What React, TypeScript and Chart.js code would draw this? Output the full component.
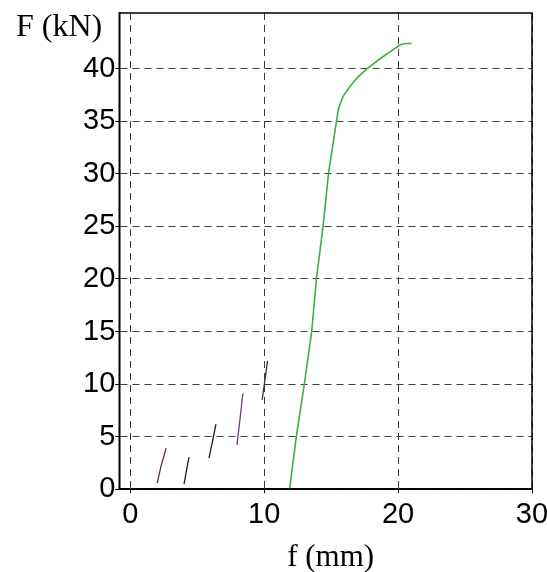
import React, { useEffect, useRef } from "react";
import { Chart, registerables } from "chart.js";

Chart.register(...registerables);

// ---- data ----
const xTicks = [0, 10, 20, 30];
const yTicks = [0, 5, 10, 15, 20, 25, 30, 35, 40];

const mainX = [11.9, 12.4, 13.0, 13.55, 13.9, 14.4, 14.8, 15.4, 15.55, 15.9, 16.4, 17.0, 17.7, 18.6, 19.5, 20.2, 20.6, 21.0];
const mainY = [0, 5, 10, 15, 20, 25, 30, 35, 36.2, 37.4, 38.3, 39.2, 40.0, 40.9, 41.7, 42.3, 42.4, 42.4];

const cycle1X = [2.01, 2.3, 2.68];
const cycle1Y = [0.57, 2.2, 3.9];
const cycle2X = [4.02, 4.2, 4.39];
const cycle2Y = [0.48, 1.8, 3.05];
const cycle3X = [5.88, 6.15, 6.4];
const cycle3Y = [2.95, 4.6, 6.2];
const cycle4X = [7.97, 8.2, 8.41];
const cycle4Y = [4.2, 6.7, 9.1];
const cycle5X = [9.85, 10.05, 10.25];
const cycle5Y = [8.5, 10.3, 12.2];

const yTitle = "F (kN)";
const xTitle = "f (mm)";

const toPts = (xs: number[], ys: number[]) => xs.map((x, i) => ({ x, y: ys[i] }));

const framePlugin = {
  id: "frameAndTitles",
  afterDraw(chart: any) {
    const { ctx, chartArea } = chart;
    const { left, right, top, bottom } = chartArea;
    ctx.save();
    ctx.strokeStyle = "#000";
    ctx.lineWidth = 1.5;
    ctx.setLineDash([]);
    ctx.strokeRect(left, top, right - left, bottom - top);
    ctx.fillStyle = "#000";
    ctx.font = "32px 'Liberation Serif'";
    ctx.textAlign = "right";
    ctx.textBaseline = "alphabetic";
    ctx.fillText(yTitle, left - 17, 36);
    ctx.font = "31px 'Liberation Serif'";
    ctx.textAlign = "center";
    ctx.fillText(xTitle, (left + right) / 2 + 5, bottom + 77);
    ctx.restore();
  },
};

export default function App() {
  const ref = useRef<HTMLCanvasElement | null>(null);
  useEffect(() => {
    if (!ref.current) return;
    const seg = (xs: number[], ys: number[], color: string, w = 1.3) => ({
      data: toPts(xs, ys),
      borderColor: color,
      borderWidth: w,
      pointRadius: 0,
      showLine: true,
      fill: false,
      tension: 0,
    });
    const chart = new Chart(ref.current, {
      type: "scatter",
      data: {
        datasets: [
          seg(cycle1X, cycle1Y, "#5e2c40"),
          seg(cycle2X, cycle2Y, "#1e1e1e"),
          seg(cycle3X, cycle3Y, "#1e1e1e"),
          seg(cycle4X, cycle4Y, "#6a3f7c"),
          seg(cycle5X, cycle5Y, "#2e3a30"),
          seg(mainX, mainY, "#3cae42", 1.6),
        ],
      },
      options: {
        animation: false,
        responsive: false,
        maintainAspectRatio: false,
        layout: { padding: { left: 83, top: 13, right: 0, bottom: 36 } },
        plugins: { legend: { display: false }, tooltip: { enabled: false }, title: { display: false } },
        scales: {
          x: {
            type: "linear",
            min: -0.82,
            max: 30,
            afterBuildTicks: (s: any) => {
              s.ticks = xTicks.map((v) => ({ value: v }));
            },
            afterFit: (s: any) => {
              s.paddingRight = 15;
            },
            ticks: {
              color: "#000",
              padding: 4,
              font: { family: "'Liberation Sans'", size: 29, lineHeight: 1.2 },
              maxRotation: 0,
              autoSkip: false,
            },
            grid: { color: "#3c3c3c", lineWidth: 1, tickLength: 4, tickColor: "#000", tickWidth: 1 },
            border: { display: true, color: "#000", width: 1.5, dash: [7, 5] },
          },
          y: {
            type: "linear",
            min: 0,
            max: 45.3,
            afterBuildTicks: (s: any) => {
              s.ticks = yTicks.map((v) => ({ value: v }));
            },
            afterFit: (s: any) => {
              s.paddingTop = 0;
            },
            ticks: {
              color: "#000",
              padding: 0,
              font: { family: "'Liberation Sans'", size: 29, lineHeight: 1.2 },
              autoSkip: false,
            },
            grid: { color: "#3c3c3c", lineWidth: 1, tickLength: 4, tickColor: "#000", tickWidth: 1 },
            border: { display: true, color: "#000", width: 1.5, dash: [7, 5] },
          },
        },
      },
      plugins: [framePlugin],
    });
    return () => chart.destroy();
  }, []);
  return (
    <div style={{ position: "fixed", left: 0, top: 0, width: 547, height: 572, background: "#fff" }}>
      <canvas ref={ref} width={547} height={572} />
    </div>
  );
}
